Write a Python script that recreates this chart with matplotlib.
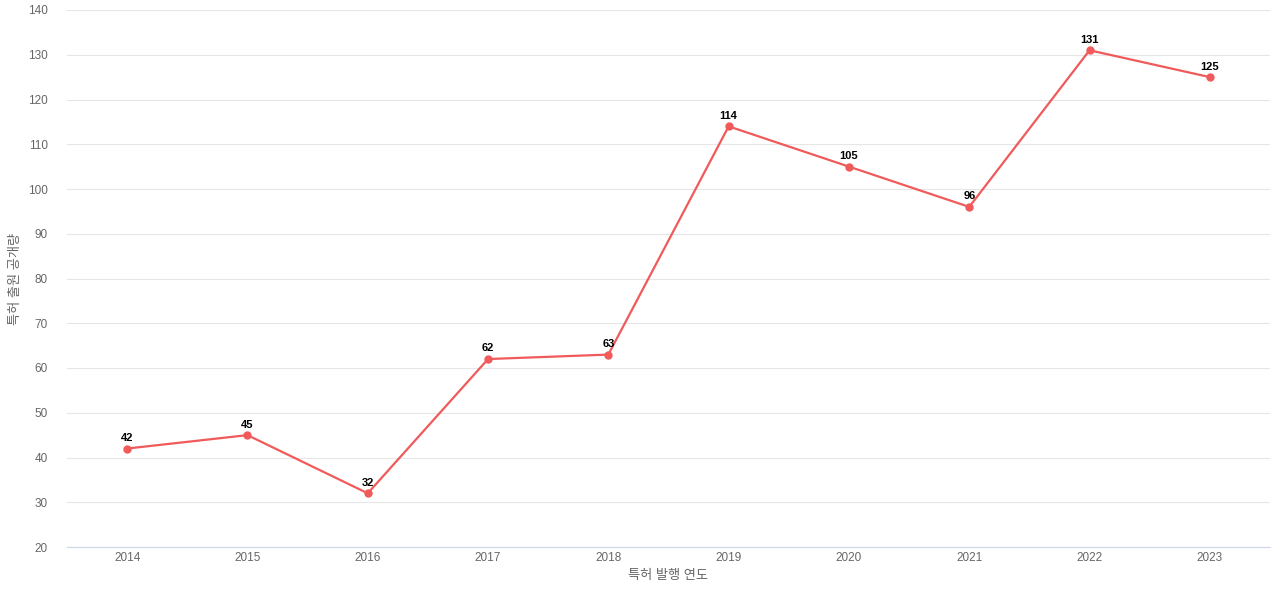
import matplotlib.pyplot as plt

plt.rcParams['font.family'] = ['Liberation Sans', 'Noto Sans CJK KR', 'DejaVu Sans']

years = ["2014", "2015", "2016", "2017", "2018", "2019", "2020", "2021", "2022", "2023"]
counts = [42, 45, 32, 62, 63, 114, 105, 96, 131, 125]

fig = plt.figure(figsize=(12.8, 6), dpi=100)
ax = fig.add_axes([67 / 1280, 53 / 600, 1203 / 1280, 537 / 600])

xs = range(len(years))
color = "#f05a5a"
ax.plot(xs, counts, color=color, lw=1.6, marker="o", ms=5)
for x, y in zip(xs, counts):
  ax.annotate(str(y), (x, y), xytext=(0, 4), textcoords="offset points",
              ha="center", va="bottom", fontsize=8, fontweight="bold")

ax.set_xlim(-0.5, len(years) - 0.5)
ax.set_ylim(20, 140)
ax.set_yticks(range(20, 141, 10))
ax.set_xticks(list(xs))
ax.set_xticklabels(years)
ax.tick_params(length=0, labelsize=8.5, colors="#666666")
ax.tick_params(axis="y", pad=14)
ax.grid(axis="y", color="#e6e6e6", lw=0.8)
ax.set_axisbelow(True)
for s in ["top", "right", "left"]:
  ax.spines[s].set_visible(False)
ax.spines["bottom"].set_color("#ccd6eb")
ax.set_xlabel("특허 발행 연도", fontsize=9.5, color="#666666")
ax.set_ylabel("특허 출원 공개량", fontsize=9.5, color="#666666", labelpad=4)

fig.savefig("out.png")
